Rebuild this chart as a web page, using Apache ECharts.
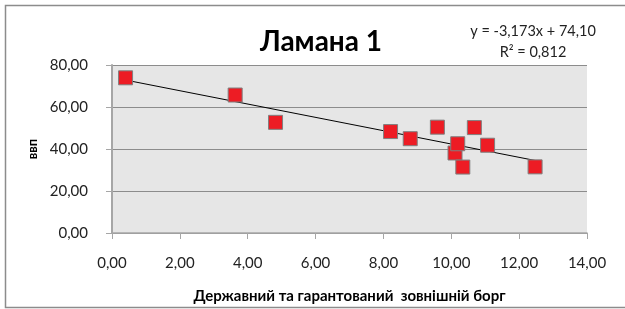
<!DOCTYPE html>
<html>
<head>
<meta charset="utf-8">
<script src="https://cdn.jsdelivr.net/npm/echarts@6/dist/echarts.min.js"></script>
<style>html,body{margin:0;padding:0;background:#fff}#c{width:625px;height:309px}</style>
</head>
<body>
<div id="c"></div>
<script>
const debt = [0.40, 3.63, 4.82, 8.21, 8.79, 9.59, 10.11, 10.19, 10.34, 10.68, 11.07, 12.47];
const gdp  = [73.9, 65.7, 52.7, 48.3, 44.9, 50.4, 38.1, 42.5, 31.4, 50.2, 41.8, 31.5];
const slope = -3.173;
const intercept = 74.10;
const eqText = ['y = -3,173x + 74,10', 'R² = 0,812'];
const titleText = 'Ламана 1';
const xTitle = 'Державний та гарантований  зовнішній борг';
const yTitle = 'ввп';

const fmt = v => v.toFixed(2).replace('.', ',');
const xMin = Math.min(...debt), xMax = Math.max(...debt);
const FONT = 'Lato, "Open Sans", sans-serif';

const chart = echarts.init(document.getElementById('c'), null, {renderer: 'canvas'});
chart.setOption({
  animation: false,
  backgroundColor: '#fff',
  title: {
    text: titleText, left: 316, top: 23, textAlign: 'center',
    textStyle: {fontFamily: FONT, fontSize: 28, fontWeight: 'bold', color: '#000'}
  },
  graphic: [
    {type: 'rect', shape: {x: 5.5, y: 5.5, width: 640, height: 302}, style: {fill: 'none', stroke: '#8c8c8c', lineWidth: 1.5}, silent: true},
    {type: 'text', x: 533, y: 24, style: {text: eqText[0], fontFamily: FONT, fontSize: 14.5, fill: '#222', align: 'center'}},
    {type: 'text', x: 533, y: 45, style: {text: eqText[1], fontFamily: FONT, fontSize: 14.5, fill: '#222', align: 'center'}}
  ],
  grid: {left: 112, right: 38, top: 65, bottom: 76, show: true, backgroundColor: '#e6e6e6', borderWidth: 0, outerBoundsMode: 'none', containLabel: false},
  xAxis: {
    type: 'value', min: 0, max: 14, interval: 2,
    name: xTitle, nameLocation: 'middle', nameGap: 56,
    nameTextStyle: {fontFamily: FONT, fontSize: 15, fontWeight: 'bold', color: '#000'},
    axisLine: {show: true, onZero: false, lineStyle: {color: '#a6a6a6', width: 1.5}},
    axisTick: {show: true, length: 6, lineStyle: {color: '#a6a6a6'}},
    axisLabel: {formatter: fmt, margin: 23, fontFamily: FONT, fontSize: 15, color: '#222'},
    splitLine: {show: false}
  },
  yAxis: {
    type: 'value', min: 0, max: 80, interval: 20,
    name: yTitle, nameLocation: 'middle', nameGap: 66, nameRotate: 90,
    nameTextStyle: {fontFamily: FONT, fontSize: 13, fontWeight: 'bold', color: '#000'},
    axisLine: {show: true, lineStyle: {color: '#a6a6a6', width: 2}},
    axisTick: {show: true, length: 6, lineStyle: {color: '#a6a6a6'}},
    axisLabel: {formatter: fmt, margin: 24, fontFamily: FONT, fontSize: 15, color: '#222'},
    splitLine: {show: true, lineStyle: {color: '#8c8c8c', width: 1}}
  },
  series: [
    {
      type: 'line', data: [[xMin, slope * xMin + intercept], [xMax, slope * xMax + intercept]],
      symbol: 'none', lineStyle: {color: '#000', width: 1}, z: 3, silent: true
    },
    {
      type: 'scatter', data: debt.map((x, i) => [x, gdp[i]]),
      symbol: 'rect', symbolSize: 14,
      itemStyle: {color: '#ed1c24', borderColor: '#7f7f7f', borderWidth: 1, opacity: 1}, z: 4
    }
  ]
});
</script>
</body>
</html>
